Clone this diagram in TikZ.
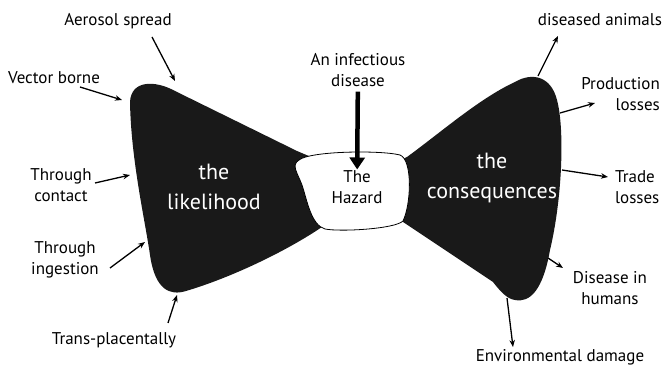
\documentclass[tikz,border=0pt]{standalone}
\usepackage{fontspec}
\setmainfont{PT Sans}
\usetikzlibrary{arrows.meta}

\begin{document}
\begin{tikzpicture}[
    x=1pt, y=-1pt,
    lbl/.style={font=\fontsize{17}{20.5}\selectfont, align=center, inner sep=1pt},
    wingtext/.style={text=white, font=\fontsize{22}{29.5}\selectfont, align=center},
    arr/.style={line width=1.3pt, -{Stealth[length=7pt, width=5.5pt]}},
    bigarr/.style={line width=4.5pt, -{Triangle[length=12pt, width=15pt]}},
    wing/.style={fill=black!90}
]
    \useasboundingbox (0,0) rectangle (662,371);

    % --- Left wing ---
    \fill[wing] (330,165) -- (297,151) -- (175,91)
        .. controls (155,80) and (131,80) .. (130,102)
        .. controls (131,160) and (145,220) .. (150,255)
        .. controls (155,290) and (170,296) .. (186,291)
        .. controls (230,278) and (285,252) .. (322,227)
        -- (340,200) -- cycle;

    % --- Right wing ---
    \fill[wing] (390,165) -- (407,157)
        .. controls (440,133) and (480,98) .. (515,82)
        .. controls (532,72) and (551,76) .. (557,100)
        .. controls (565,130) and (562,200) .. (550,250)
        .. controls (543,290) and (530,303) .. (515,300)
        .. controls (507,299) and (500,291) .. (493,282)
        -- (403,222) -- (380,190) -- cycle;

    % --- Hazard (knot) ---
    \filldraw[fill=white, draw=black, line width=0.8pt] (299,160)
        .. controls (310,151) and (380,150) .. (400,155)
        .. controls (413,160) and (411,205) .. (403,221)
        .. controls (395,229) and (340,232) .. (325,229)
        .. controls (311,225) and (307,200) .. (302,185)
        .. controls (297,172) and (291,165) .. (299,160) -- cycle;

    \node[wingtext] (lik) at (214,187) {the\\likelihood};
    \node[wingtext] (cns) at (492,178) {the\\consequences};
    \node[lbl] (haz) at (357,187) {The\\Hazard};
    \node[lbl] (inf) at (358,70) {An infectious\\disease};

    \draw[bigarr, shorten <=4pt] (inf) -- (haz);

    % --- Routes (left) ---
    \node[lbl] (aer) at (118,21) {Aerosol spread};
    \node[lbl] (vec) at (54,78) {Vector borne};
    \node[lbl] (con) at (61,185) {Through\\contact};
    \node[lbl] (ing) at (65,260) {Through\\ingestion};
    \node[lbl] (tra) at (114,340) {Trans-placentally};

    \coordinate (aerT) at (152,37);  \coordinate (aerH) at (175,81);
    \coordinate (vecT) at (80,87);   \coordinate (vecH) at (122,100);
    \coordinate (conT) at (95,183);  \coordinate (conH) at (130,175);
    \coordinate (ingT) at (110,268); \coordinate (ingH) at (145,242);
    \coordinate (traT) at (168,323); \coordinate (traH) at (177,295);

    \foreach \n in {aer, vec, con, ing, tra}
        \draw[arr] (\n T) -- (\n H);

    % --- Consequences (right) ---
    \node[lbl] (dis) at (600,20) {diseased animals};
    \node[lbl, align=right, anchor=east] (pro) at (661,94) {Production\\losses};
    \node[lbl, align=left, anchor=west] (trd) at (614,187) {Trade\\losses};
    \node[lbl] (hum) at (610,288) {Disease in\\humans};
    \node[lbl] (env) at (560,357) {Environmental damage};

    \coordinate (disT) at (538,76);  \coordinate (disH) at (558,36);
    \coordinate (proT) at (560,113); \coordinate (proH) at (595,103);
    \coordinate (trdT) at (562,170); \coordinate (trdH) at (608,177);
    \coordinate (humT) at (548,258); \coordinate (humH) at (563,268);
    \coordinate (envT) at (507,298); \coordinate (envH) at (513,347);

    \foreach \n in {dis, pro, trd, hum, env}
        \draw[arr] (\n T) -- (\n H);

\end{tikzpicture}
\end{document}
